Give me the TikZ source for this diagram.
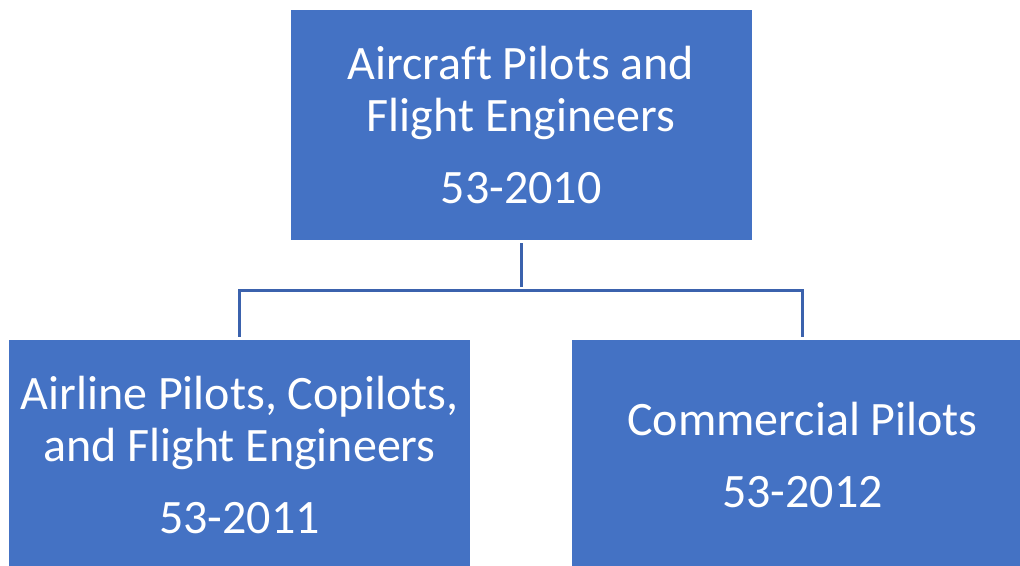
\documentclass[tikz,border=0pt]{standalone}
\usepackage{fontspec}
\setmainfont[Ligatures=NoCommon]{Carlito}
\definecolor{boxblue}{HTML}{4472C4}
\definecolor{lineblue}{HTML}{3B62AD}
\tikzset{
	occbox/.style={draw=none, fill=boxblue, text=white, align=center,
		minimum width=461pt, minimum height=230pt, inner sep=0pt,
		font=\fontsize{48}{52}\selectfont},
	link/.style={draw=lineblue, line width=3pt, shorten >=3pt, shorten <=3pt}
}
\begin{document}
\begin{tikzpicture}[x=1pt, y=-1pt]
			\useasboundingbox (0,0) rectangle (1020,565);
			\clip (0,0) rectangle (1020,565);
			\node	(top) at (521,125) [occbox] {Aircraft Pilots and\\Flight Engineers\\[20pt]53-2010};
			\node	(left) at (239.5,455) [occbox] {Airline Pilots, Copilots,\\and Flight Engineers\\[20pt]53-2011};
			\node	(right) at (802.5,455) [occbox] {Commercial Pilots\\[20pt]53-2012};
			\coordinate (bus) at (521,290);
			
			\draw[link] (top) -- (bus);
			\draw[link] (left.north) |- (bus) -| (right.north);
		\end{tikzpicture}
\end{document}
